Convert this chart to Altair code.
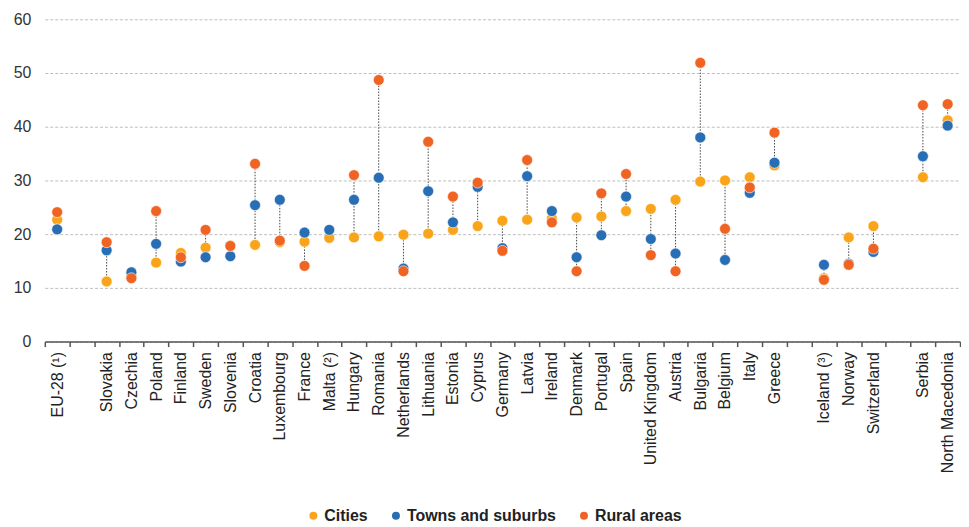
import altair as alt
import pandas as pd

slots = ["EU-28 (¹)", " ", "Slovakia", "Czechia", "Poland", "Finland", "Sweden", "Slovenia",
         "Croatia", "Luxembourg", "France", "Malta (²)", "Hungary", "Romania", "Netherlands",
         "Lithuania", "Estonia", "Cyprus", "Germany", "Latvia", "Ireland", "Denmark", "Portugal",
         "Spain", "United Kingdom", "Austria", "Bulgaria", "Belgium", "Italy", "Greece", "  ",
         "Iceland (³)", "Norway", "Switzerland", "   ", "Serbia", "North Macedonia"]

countries = ["EU-28 (¹)", "Slovakia", "Czechia", "Poland", "Finland", "Sweden", "Slovenia",
             "Croatia", "Luxembourg", "France", "Malta (²)", "Hungary", "Romania", "Netherlands",
             "Lithuania", "Estonia", "Cyprus", "Germany", "Latvia", "Ireland", "Denmark", "Portugal",
             "Spain", "United Kingdom", "Austria", "Bulgaria", "Belgium", "Italy", "Greece",
             "Iceland (³)", "Norway", "Switzerland", "Serbia", "North Macedonia"]

cities = [22.7, 11.2, 12.4, 14.7, 16.5, 17.5, 17.9, 18.0, 18.5, 18.6, 19.3, 19.4, 19.6, 19.9,
          20.1, 20.8, 21.5, 22.5, 22.7, 22.9, 23.1, 23.3, 24.3, 24.7, 26.4, 29.8, 30.0, 30.6,
          32.8, 11.8, 19.4, 21.5, 30.6, 41.2]
towns = [20.9, 17.0, 12.9, 18.2, 14.9, 15.7, 15.9, 25.4, 26.4, 20.3, 20.8, 26.4, 30.5, 13.6,
         28.0, 22.2, 28.8, 17.4, 30.8, 24.3, 15.7, 19.8, 27.0, 19.1, 16.4, 38.0, 15.2, 27.7,
         33.3, 14.3, 14.5, 16.7, 34.5, 40.2]
rural = [24.1, 18.5, 11.8, 24.3, 15.7, 20.8, 17.8, 33.1, 18.8, 14.1, None, 31.0, 48.7, 13.1,
         37.2, 27.0, 29.6, 16.9, 33.8, 22.2, 13.1, 27.6, 31.2, 16.1, 13.1, 51.9, 21.0, 28.7,
         38.9, 11.5, 14.3, 17.3, 44.0, 44.2]

series = ["Cities", "Towns and suburbs", "Rural areas"]
colors = ["#FAA519", "#286EB4", "#F06423"]
y_ticks = [0, 10, 20, 30, 40, 50, 60]

rows = []
for s, vals in zip(series, [cities, towns, rural]):
    for c, v in zip(countries, vals):
        if v is not None:
            rows.append({"country": c, "series": s, "value": v})
df = pd.DataFrame(rows)

FONT = "Liberation Sans"

x_enc = alt.X(
    "country:N",
    sort=slots,
    scale=alt.Scale(domain=slots, paddingInner=0, paddingOuter=0),
    axis=alt.Axis(title=None, labelAngle=-90, tickBand="extent", domainColor="#555555",
                  domainWidth=1.5, tickColor="#555555", tickWidth=1.5, tickSize=5,
                  labelPadding=5, grid=False, labelFontSize=16, labelColor="#222222",
                  labelFont=FONT),
)

y_scale = alt.Scale(domain=[0, 60])

rules = alt.Chart(df).mark_rule(strokeDash=[1.5, 1.5], color="#444444", strokeWidth=1).encode(
    x=x_enc,
    y=alt.Y("min(value):Q", scale=y_scale),
    y2="max(value):Q",
)

points = alt.Chart(df).mark_circle(size=120, opacity=1, stroke="white", strokeWidth=0.6).encode(
    x=x_enc,
    y=alt.Y("value:Q", scale=y_scale,
            axis=alt.Axis(values=y_ticks, title=None, domain=False, ticks=False, grid=True,
                          gridDash=[3, 2], gridColor="#bdbdbd", labelPadding=14,
                          labelFontSize=16, labelColor="#333333", labelFont=FONT)),
    color=alt.Color("series:N", scale=alt.Scale(domain=series, range=colors), title=None,
                    legend=alt.Legend(orient="none", legendX=262, legendY=491,
                                      direction="horizontal", symbolType="circle",
                                      symbolSize=64, symbolStrokeWidth=0, labelFontSize=16,
                                      labelFontWeight="bold", labelFont=FONT,
                                      labelColor="#222222", columnPadding=20, labelOffset=3)),
)

chart = alt.layer(rules, points).properties(
    width=920, height=324,
    padding={"left": 5, "top": 2, "right": 0, "bottom": 0},
).configure_view(stroke=None)

chart.save("out.html", embed_options={"renderer": "svg", "actions": False})
